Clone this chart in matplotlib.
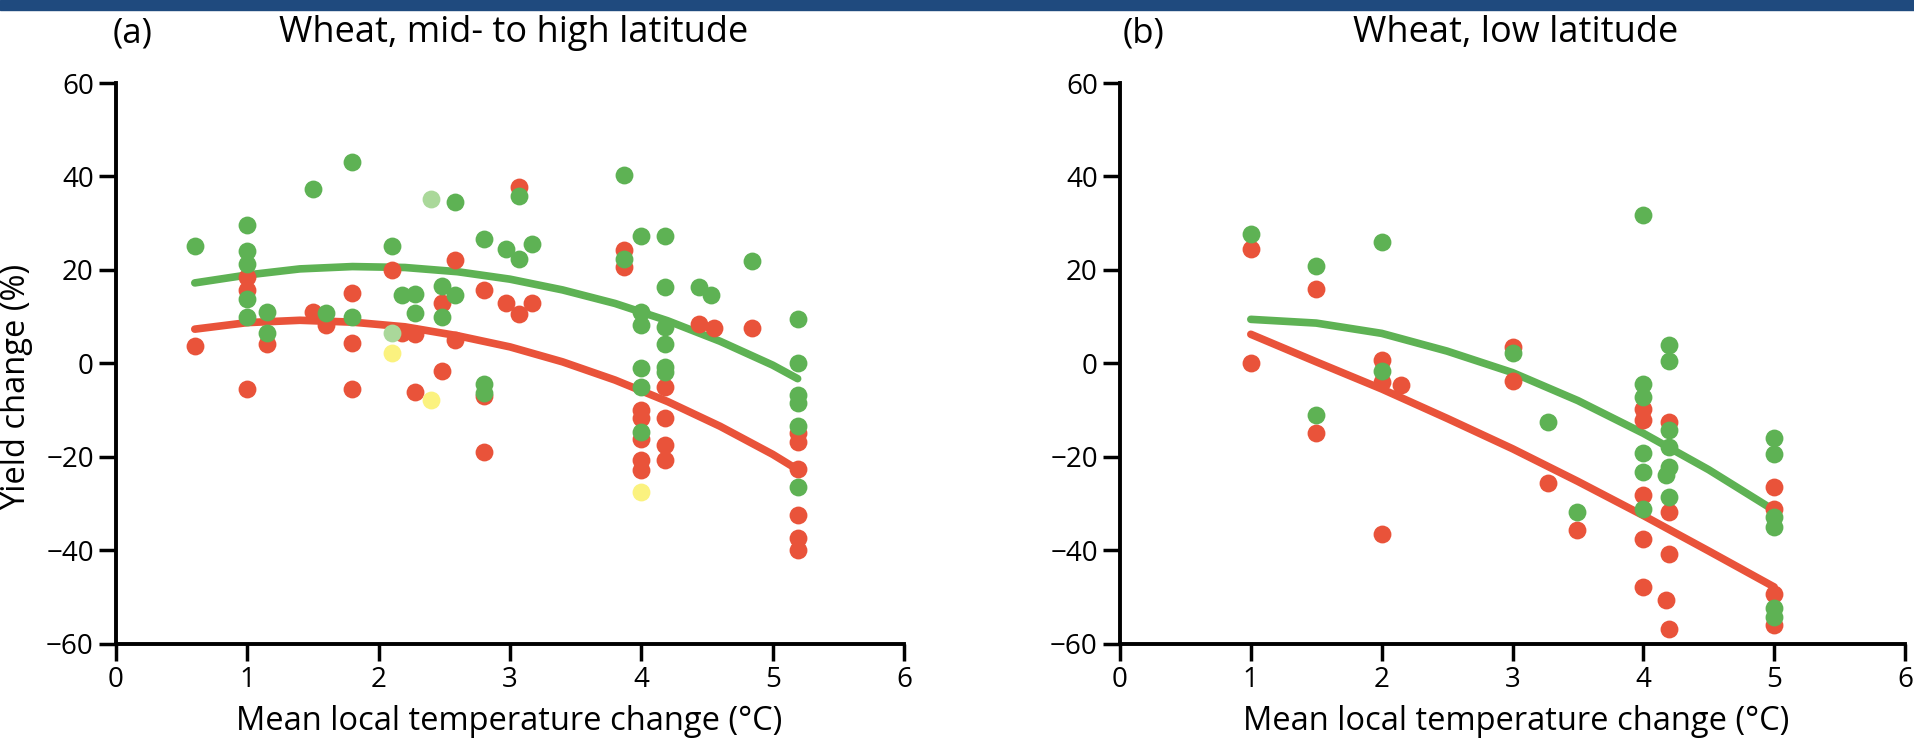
import matplotlib
matplotlib.use("Agg")
import matplotlib.pyplot as plt
from matplotlib.patches import Rectangle

plt.rcParams['font.family'] = ['Open Sans', 'DejaVu Sans']

GREEN = "#5eb254"
RED = "#e9533a"
LIGHT_GREEN = "#aad89a"
YELLOW = "#fbf27f"
BAR_BLUE = "#1f4a7e"

# panel (a): wheat, mid- to high latitude
a_green_x = [0.6, 1.0, 1.0, 1.0, 1.0, 1.0, 1.15, 1.15, 1.5, 1.6, 1.8, 1.8, 2.1, 2.18,
             2.28, 2.28, 2.48, 2.48, 2.58, 2.58, 2.8, 2.8, 2.8, 2.97, 3.07, 3.07, 3.17,
             3.87, 3.87, 4.0, 4.0, 4.0, 4.0, 4.0, 4.0, 4.18, 4.18, 4.18, 4.18, 4.18,
             4.18, 4.44, 4.53, 4.84, 5.19, 5.19, 5.19, 5.19, 5.19, 5.19]
a_green_y = [25, 29.5, 24, 21.3, 13.8, 10, 11, 6.5, 37.2, 10.8, 43.1, 10, 25, 14.6,
             14.8, 10.8, 16.5, 9.9, 34.5, 14.6, 26.5, -4.4, -6.3, 24.5, 35.8, 22.4, 25.6,
             40.3, 22.4, 27.2, 11, 8.1, -1.1, -5.1, -14.7, 27.2, 16.3, 7.8, 4.1, -0.8,
             -1.9, 16.3, 14.6, 21.9, 9.4, 0, -6.9, -8.6, -13.5, -26.6]
a_red_x = [0.6, 1.0, 1.0, 1.0, 1.15, 1.5, 1.6, 1.8, 1.8, 1.8, 2.1, 2.18, 2.28, 2.28,
           2.48, 2.48, 2.58, 2.58, 2.8, 2.8, 2.8, 2.97, 3.07, 3.07, 3.17, 3.87, 3.87,
           4.0, 4.0, 4.0, 4.0, 4.0, 4.18, 4.18, 4.18, 4.18, 4.44, 4.55, 4.84,
           5.19, 5.19, 5.19, 5.19, 5.19, 5.19]
a_red_y = [3.8, 18.5, 15.6, -5.6, 4.2, 11, 8.1, 15, 4.3, -5.6, 20, 6.5, 6.3, -6.1,
           12.8, -1.6, 22.2, 4.9, 15.6, -7, -19, 12.8, 37.8, 10.6, 12.8, 24.2, 20.6,
           -10.1, -11.8, -16.3, -20.8, -22.9, -5.1, -11.7, -17.6, -20.8, 8.3, 7.6, 7.6,
           -15, -16.8, -22.6, -32.5, -37.5, -40]
a_light_x = [2.4, 2.1]
a_light_y = [35.1, 6.5]
a_yellow_x = [2.1, 2.4, 4.0]
a_yellow_y = [2.2, -7.9, -27.6]

# fitted curves
a_green_fit_x = [0.6, 1.0, 1.4, 1.8, 2.2, 2.6, 3.0, 3.4, 3.8, 4.2, 4.6, 5.0, 5.19]
a_green_fit_y = [17.2, 18.9, 20.2, 20.7, 20.5, 19.6, 18.0, 15.7, 12.8, 9.1, 4.7, -0.4, -3.3]
a_red_fit_x = [0.6, 1.0, 1.4, 1.8, 2.2, 2.6, 3.0, 3.4, 3.8, 4.2, 4.6, 5.0, 5.18]
a_red_fit_y = [7.3, 8.7, 9.2, 8.8, 7.8, 5.9, 3.5, 0.3, -3.6, -8.2, -13.5, -19.5, -22.6]

# panel (b): wheat, low latitude
b_green_x = [1.0, 1.5, 1.5, 2.0, 2.0, 3.0, 3.27, 3.49, 4.0, 4.0, 4.0, 4.0, 4.0, 4.0,
             4.2, 4.2, 4.2, 4.2, 4.2, 4.17, 4.2, 5.0, 5.0, 5.0, 5.0, 5.0, 5.0]
b_green_y = [27.6, 20.8, -11.1, 26, -1.6, 2.3, -12.6, -31.8, 31.7, -4.4, -7.2, -19.3, -23.3, -31.1,
             3.9, 0.5, -14.3, -17.9, -22.2, -24, -28.6, -16.1, -19.5, -32.9, -35, -52.5, -54.3]
b_red_x = [1.0, 1.0, 1.5, 1.5, 2.0, 2.0, 2.0, 2.15, 3.0, 3.0, 3.27, 3.49, 4.0, 4.0, 4.0,
           4.0, 4.0, 4.2, 4.2, 4.2, 4.17, 4.2, 5.0, 5.0, 5.0, 5.0]
b_red_y = [24.4, 0, 16, -14.9, 0.6, -4, -36.6, -4.6, 3.5, -3.8, -25.6, -35.8, -9.7, -12.2, -28.3,
           -37.7, -47.8, -12.6, -31.8, -40.8, -50.6, -56.8, -26.5, -31.1, -49.5, -56.1]

b_green_fit_x = [1.0, 1.5, 2.0, 2.5, 3.0, 3.5, 4.0, 4.5, 5.0]
b_green_fit_y = [9.4, 8.6, 6.4, 2.6, -2.0, -8.0, -15.0, -22.8, -31.5]
b_red_fit_x = [1.0, 1.5, 2.0, 2.5, 3.0, 3.5, 4.0, 4.5, 5.0]
b_red_fit_y = [6.2, 0.3, -5.5, -11.8, -18.3, -25.3, -32.6, -40.2, -47.9]

xticks = [0, 1, 2, 3, 4, 5, 6]
yticks = [-60, -40, -20, 0, 20, 40, 60]

W, H = 1915, 741
fig = plt.figure(figsize=(W / 100, H / 100), dpi=100)

# dark blue band along the top
fig.patches.append(Rectangle((0, 1 - 10 / H), 1, 10 / H, transform=fig.transFigure,
                             color=BAR_BLUE, zorder=0))


def style_axes(ax):
    ax.set_xlim(0, 6)
    ax.set_ylim(-60, 60)
    ax.set_xticks(xticks)
    ax.set_yticks(yticks)
    ax.set_yticklabels([str(t).replace("-", "\u2212") for t in yticks])
    for s in ["top", "right"]:
        ax.spines[s].set_visible(False)
    for s in ["left", "bottom"]:
        ax.spines[s].set_linewidth(2.8)
    ax.tick_params(width=2.5, length=12, labelsize=20, pad=4, direction="out")
    ax.set_facecolor("none")


def draw_panel(ax, gx, gy, rx, ry, gfx, gfy, rfx, rfy):
    ax.plot(gfx, gfy, color=GREEN, lw=5.5, solid_capstyle="round", zorder=2)
    ax.plot(rfx, rfy, color=RED, lw=5.5, solid_capstyle="round", zorder=2)
    ax.scatter(rx, ry, s=165, color=RED, linewidths=0, zorder=3, clip_on=False)
    ax.scatter(gx, gy, s=165, color=GREEN, linewidths=0, zorder=4, clip_on=False)


ax1 = fig.add_axes([116 / W, 97.5 / H, 788 / W, 560.5 / H])
draw_panel(ax1, a_green_x, a_green_y, a_red_x, a_red_y,
           a_green_fit_x, a_green_fit_y, a_red_fit_x, a_red_fit_y)
ax1.scatter(a_light_x, a_light_y, s=165, color=LIGHT_GREEN, linewidths=0, zorder=5)
ax1.scatter(a_yellow_x, a_yellow_y, s=165, color=YELLOW, linewidths=0, zorder=5)
style_axes(ax1)

ax2 = fig.add_axes([1120 / W, 97.5 / H, 785 / W, 560.5 / H])
draw_panel(ax2, b_green_x, b_green_y, b_red_x, b_red_y,
           b_green_fit_x, b_green_fit_y, b_red_fit_x, b_red_fit_y)
style_axes(ax2)

fig.text(113 / W, 1 - 33 / H, "(a)", fontsize=25, ha="left", va="center")
fig.text(514 / W, 1 - 33 / H, "Wheat, mid- to high latitude", fontsize=26, ha="center", va="center")
fig.text(1123 / W, 1 - 33 / H, "(b)", fontsize=25, ha="left", va="center")
fig.text(1516 / W, 1 - 33 / H, "Wheat, low latitude", fontsize=26, ha="center", va="center")

fig.text(509 / W, 1 - 721 / H, "Mean local temperature change (\u00b0C)", fontsize=23.5,
         ha="center", va="center")
fig.text(1516 / W, 1 - 721 / H, "Mean local temperature change (\u00b0C)", fontsize=23.5,
         ha="center", va="center")
fig.text(17 / W, 1 - 387 / H, "Yield change (%)", fontsize=23.5, rotation=90,
         ha="center", va="center")

fig.savefig("out.png", dpi=100)
